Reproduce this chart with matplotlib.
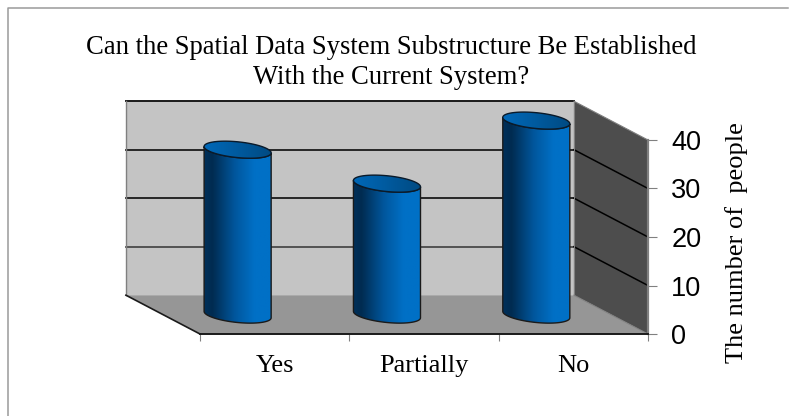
"""Cylinder chart of survey answers, drawn with a fake 3D box."""

import matplotlib

matplotlib.use("Agg")
import matplotlib.colors as mcolors
import matplotlib.patches as mpatches
import matplotlib.pyplot as plt
import numpy as np

CATEGORIES = ["Yes", "Partially", "No"]
PEOPLE = [34, 27, 40]
Y_TICKS = [0, 10, 20, 30, 40]

TITLE_LINES = ["Can the Spatial Data System Substructure Be Established", "With the Current System?"]
Y_LABEL = "The number of  people"

WALL_BACK = "#c4c4c4"
WALL_SIDE = "#4d4d4d"
FLOOR = "#969696"
EDGE = "#1a1a1a"
AXIS_GRAY = "#808080"
FRAME_GRAY = "#9a9a9a"

# box depth in data units (x categories, y people)
DEPTH_X = -0.496
DEPTH_Y = 8.0
HALF_WIDTH = 0.2245
# cap ellipse, in data units
CAP_TILT = 0.66
CAP_MINOR = 1.63

BODY_CMAP = mcolors.LinearSegmentedColormap.from_list(
    "body",
    [(0, "#00305a"), (0.12, "#002b50"), (0.45, "#00569c"), (0.75, "#0070c6"), (1, "#0070c6")],
)
CAP_CMAP = mcolors.LinearSegmentedColormap.from_list(
    "cap", [(0, "#0068b8"), (0.5, "#005a9e"), (1, "#004a82")]
)


def cap_points(cx, cy, t):
    return cx + HALF_WIDTH * np.cos(t), cy - CAP_TILT * np.cos(t) + CAP_MINOR * np.sin(t)


def draw_cylinder(ax, index, value):
    cx = index + 0.5 + DEPTH_X / 2
    base = DEPTH_Y / 2
    top = base + value

    # body outline: round the lower half of the base, then back over the top
    t_low = np.linspace(np.pi, 2 * np.pi, 60)
    low_x, low_y = cap_points(cx, base, t_low)
    t_up = np.linspace(0, np.pi, 60)
    up_x, up_y = cap_points(cx, top, -t_up)
    xs = np.r_[low_x, up_x]
    ys = np.r_[low_y, up_y]
    body = mpatches.Polygon(np.c_[xs, ys], closed=True, facecolor="none", edgecolor=EDGE,
                            lw=1.0, zorder=6, clip_on=False)
    ax.add_patch(body)

    grad = np.linspace(0, 1, 128).reshape(1, -1)
    extent = (cx - HALF_WIDTH, cx + HALF_WIDTH, base - 3, top + 3)
    img = ax.imshow(grad, cmap=BODY_CMAP, extent=extent, aspect="auto", zorder=5, interpolation="bilinear")
    img.set_clip_box(ax.figure.bbox)
    img.set_clip_path(body)

    # top cap
    t = np.linspace(0, 2 * np.pi, 120)
    cap_x, cap_y = cap_points(cx, top, t)
    cap = mpatches.Polygon(np.c_[cap_x, cap_y], closed=True, facecolor="none", edgecolor="#0a1a2a",
                           lw=1.0, zorder=8, clip_on=False)
    ax.add_patch(cap)
    img_cap = ax.imshow(grad, cmap=CAP_CMAP, extent=extent, aspect="auto", zorder=7, interpolation="bilinear")
    img_cap.set_clip_box(ax.figure.bbox)
    img_cap.set_clip_path(cap)


def main():
    fig = plt.figure(figsize=(7.9, 4.16), dpi=100, facecolor="white")

    # thin frame along the top and left edges only
    fig.add_artist(plt.Line2D([7.5 / 790, 7.5 / 790, 788 / 790], [0, 1 - 7.5 / 416, 1 - 7.5 / 416],
                              transform=fig.transFigure, color=FRAME_GRAY, lw=1.1))

    # axes span the front edge of the box
    ax = fig.add_axes([200 / 790, 1 - 334 / 416, 448 / 790, 194 / 416])
    n = len(CATEGORIES)
    ymax = Y_TICKS[-1]

    back = mpatches.Polygon([(DEPTH_X, DEPTH_Y), (n + DEPTH_X, DEPTH_Y), (n + DEPTH_X, ymax + DEPTH_Y), (DEPTH_X, ymax + DEPTH_Y)],
                            closed=True, facecolor=WALL_BACK, edgecolor="none", zorder=1, clip_on=False)
    side = mpatches.Polygon([(n + DEPTH_X, DEPTH_Y), (n, 0), (n, ymax), (n + DEPTH_X, ymax + DEPTH_Y)],
                            closed=True, facecolor=WALL_SIDE, edgecolor="none", zorder=1, clip_on=False)
    floor = mpatches.Polygon([(0, 0), (n, 0), (n + DEPTH_X, DEPTH_Y), (DEPTH_X, DEPTH_Y)],
                             closed=True, facecolor=FLOOR, edgecolor="none", zorder=1, clip_on=False)
    for patch in (back, side, floor):
        ax.add_patch(patch)

    for value in Y_TICKS[1:-1]:
        color = "#4a4a4a" if value == 10 else EDGE
        ax.plot([DEPTH_X, n + DEPTH_X], [value + DEPTH_Y] * 2, color=color, lw=1.3, zorder=2, clip_on=False)
        ax.plot([n + DEPTH_X, n], [value + DEPTH_Y, value], color="#000000", lw=1.1, zorder=2, clip_on=False)

    ax.plot([DEPTH_X, n + DEPTH_X], [ymax + DEPTH_Y] * 2, color=EDGE, lw=1.4, zorder=2, clip_on=False)
    ax.plot([DEPTH_X, DEPTH_X], [DEPTH_Y, ymax + DEPTH_Y], color=AXIS_GRAY, lw=1.0, zorder=2, clip_on=False)
    ax.plot([DEPTH_X, 0], [DEPTH_Y, 0], color=EDGE, lw=1.2, zorder=2, clip_on=False)
    ax.plot([n + DEPTH_X, n], [ymax + DEPTH_Y, ymax], color=AXIS_GRAY, lw=0.8, zorder=2, clip_on=False)
    ax.plot([n + DEPTH_X, n + DEPTH_X], [DEPTH_Y, ymax + DEPTH_Y], color=AXIS_GRAY, lw=0.8, zorder=2, clip_on=False)
    ax.plot([n + DEPTH_X, n], [DEPTH_Y, 0], color=AXIS_GRAY, lw=0.8, zorder=2, clip_on=False)

    for i, value in enumerate(PEOPLE):
        draw_cylinder(ax, i, value)

    ax.set_xlim(0, n)
    ax.set_ylim(0, ymax)
    ax.patch.set_visible(False)
    for name in ("top", "left"):
        ax.spines[name].set_visible(False)
    ax.spines["bottom"].set_color(EDGE)
    ax.spines["bottom"].set_linewidth(1.4)
    ax.spines["right"].set_color(AXIS_GRAY)
    ax.spines["right"].set_linewidth(1.6)

    ax.set_xticks(range(n + 1))
    ax.set_xticklabels([])
    ax.set_xticks(np.arange(n) + 0.5, minor=True)
    ax.set_xticklabels(CATEGORIES, minor=True, family="Liberation Serif", fontsize=19)
    ax.tick_params(axis="x", which="major", length=5, color=AXIS_GRAY, width=0.8)
    ax.tick_params(axis="x", which="minor", length=0, pad=15)

    ax.yaxis.tick_right()
    ax.set_yticks(Y_TICKS)
    ax.set_yticklabels([str(v) for v in Y_TICKS], family="Liberation Sans", fontsize=19.5)
    ax.tick_params(axis="y", length=6.2, color=AXIS_GRAY, width=0.8, pad=10.5)

    fig.text(737 / 790, 1 - 243 / 416, Y_LABEL, rotation=90, ha="center", va="center",
             family="Liberation Serif", fontsize=19)
    for line, y_px in zip(TITLE_LINES, (48, 77)):
        fig.text(391 / 790, 1 - y_px / 416, line, ha="center", va="center",
                 family="Liberation Serif", fontsize=19.2)

    fig.savefig("out.png", dpi=100, facecolor="white")
    plt.close(fig)


if __name__ == "__main__":
    main()
